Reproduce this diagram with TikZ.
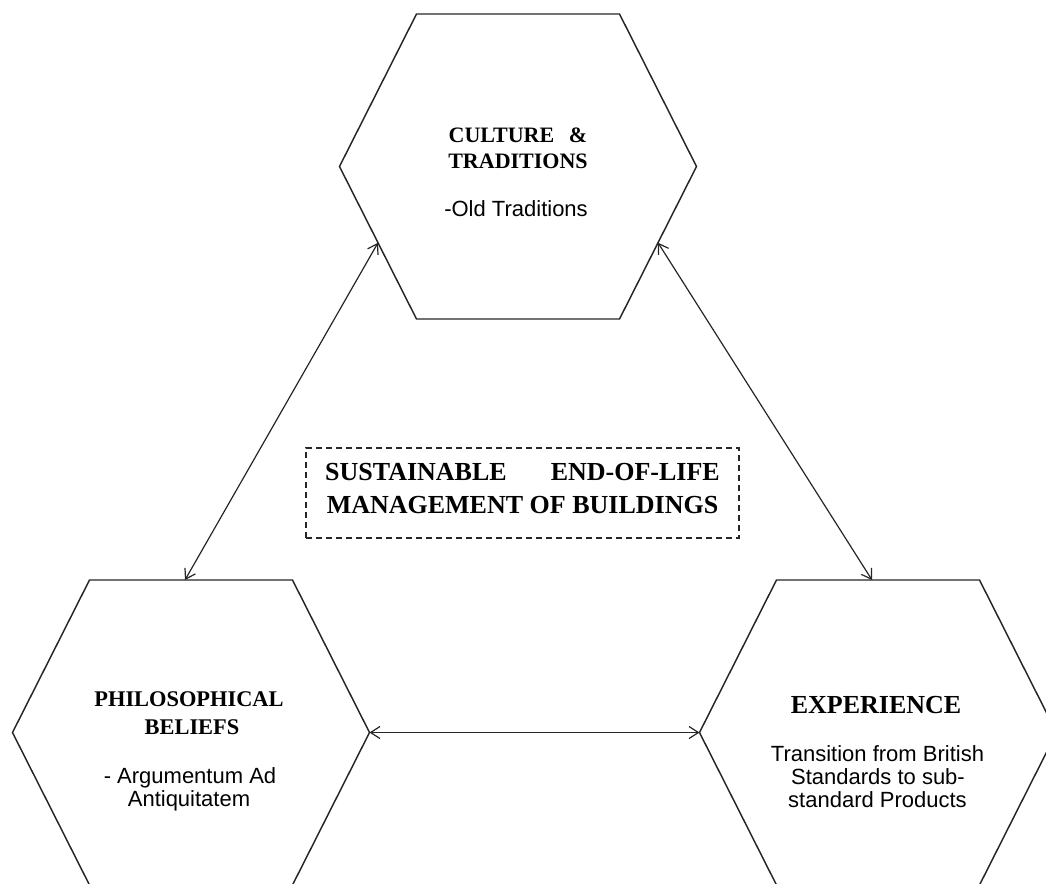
\documentclass[tikz,border=0pt]{standalone}
\usepackage{fontspec}
\setmainfont{Liberation Serif}
\newfontfamily\labelsans{Liberation Sans}
\usetikzlibrary{arrows.meta}

\begin{document}
\begin{tikzpicture}[x=0.75pt,y=-0.75pt,
  hexline/.style={line width=1.1pt, draw=black!85, line join=miter},
  link/.style={line width=0.9pt, draw=black!85,
    {Straight Barb[length=7pt,width=9pt]}-{Straight Barb[length=7pt,width=9pt]}},
  heading/.style={font=\bfseries\fontsize{16.5}{19}\selectfont, inner sep=0pt, anchor=base},
  note/.style={font=\labelsans\fontsize{16.5}{18}\selectfont, inner sep=0pt, anchor=base},
  hexagon/.pic={
    \draw[hexline] (-101.5,-152.5) -- (101.5,-152.5) -- (178.5,0)
      -- (101.5,152.5) -- (-101.5,152.5) -- (-178.5,0) -- cycle;
    \coordinate (-n)  at (-6,-152.5);
    \coordinate (-e)  at (178.5,0);
    \coordinate (-w)  at (-178.5,0);
    \coordinate (-sw) at (-140,76.25);
    \coordinate (-se) at (140,76.25);
  }
]
\useasboundingbox (0,0) rectangle (1046,883);
\clip (0,0) rectangle (1046,883);

% the three hexagons
\pic (cult) at (518,166.5) {hexagon};
\pic (phil) at (191,732.5) {hexagon};
\pic (exp)  at (878,732.5) {hexagon};

% culture & traditions
\node[heading] (cultA) at (518,142) {\makebox[104pt][s]{CULTURE \&}};
\node[heading] (cultB) at (518,168) {TRADITIONS};
\node[note]    (cultC) at (516,216) {-Old Traditions};

% philosophical beliefs
\node[heading, font=\bfseries\fontsize{16.8}{19}\selectfont] (philA) at (189,706) {PHILOSOPHICAL};
\node[heading, font=\bfseries\fontsize{16.8}{19}\selectfont] (philB) at (192,734) {BELIEFS};
\node[note] (philC) at (190,783) {- Argumentum Ad};
\node[note] (philD) at (189,806) {Antiquitatem};

% experience
\node[heading, font=\bfseries\fontsize{19.5}{22}\selectfont] (expA) at (876,713) {EXPERIENCE};
\node[note] (expB) at (877.5,761) {Transition from British};
\node[note] (expC) at (878,784)   {Standards to sub-};
\node[note] (expD) at (877.5,807) {standard Products};

% central theme
\node[draw=black!85, dash pattern=on 4.5pt off 3pt, line width=0.9pt,
      minimum width=324.75pt, minimum height=67.5pt, inner sep=0pt, align=center,
      font=\bfseries\fontsize{19.5}{24.75}\selectfont] (core) at (522.5,493)
  {\makebox[296pt][s]{SUSTAINABLE END-OF-LIFE}\\MANAGEMENT OF BUILDINGS\rule[-7.5pt]{0pt}{7.5pt}};

% two-way links
\draw[link] (cult-sw) -- (phil-n);
\draw[link] (cult-se) -- (exp-n);
\draw[link] (phil-e)  -- (exp-w);
\end{tikzpicture}
\end{document}
